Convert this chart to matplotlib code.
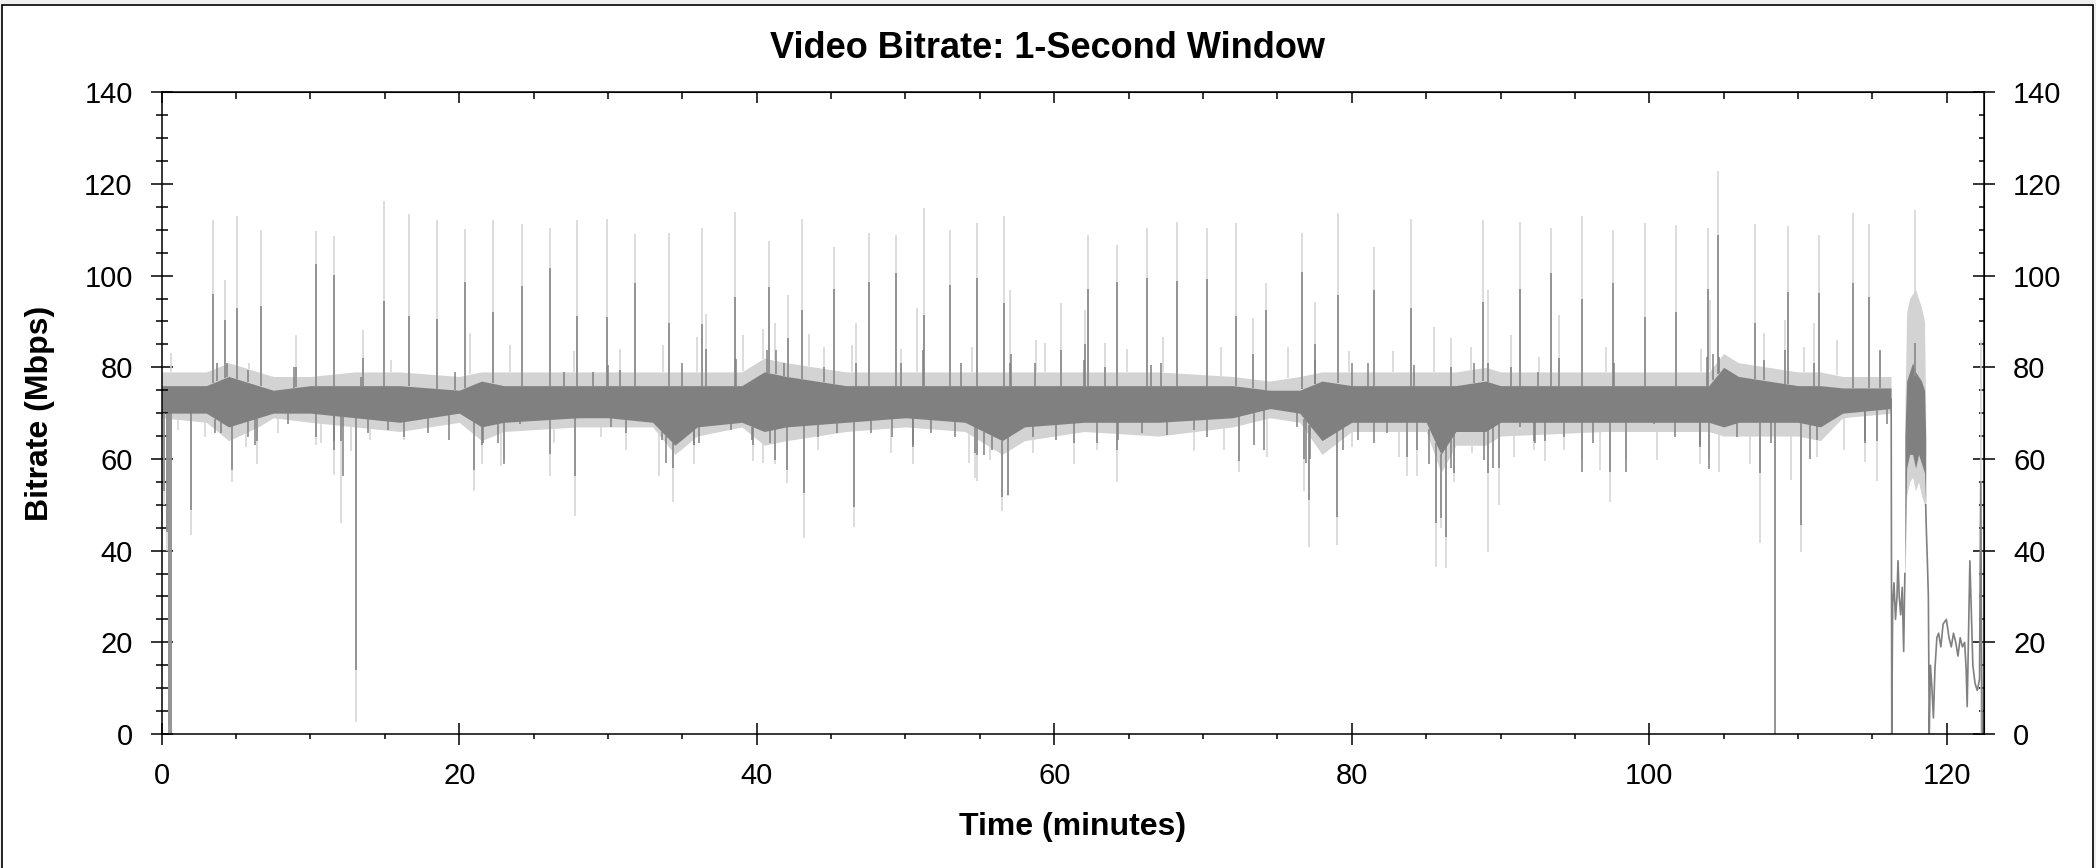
"""Video bitrate over time, 1-second window (light = peak, dark = average)."""

import matplotlib

matplotlib.use("Agg")
import matplotlib.pyplot as plt  # noqa: E402
import numpy as np  # noqa: E402
from matplotlib.patches import Rectangle  # noqa: E402
from matplotlib.ticker import MultipleLocator  # noqa: E402

LIGHT, DARK = "#d3d3d3", "#808080"
FONT = "Liberation Sans"

# main programme: envelope of the dense band, read at breakpoints (minutes, Mbps)
band_t = [0.0, 3.0, 4.5, 6.5, 7.5, 10.0, 13.0, 16.0, 20.0, 21.5, 23.0, 28.0, 30.0,
          33.0, 34.5, 36.0, 39.0, 40.5, 42.0, 46.0, 50.0, 54.0, 56.5, 58.0, 62.0,
          67.0, 72.0, 74.5, 76.5, 78.0, 80.0, 85.0, 86.0, 87.0, 89.0, 90.0, 97.0,
          104.0, 105.0, 106.0, 110.0, 111.5, 113.0, 116.25]
light_lo = [69, 68, 64, 67, 69, 68, 67, 66, 68, 64, 66, 67, 67, 67, 61, 65, 67, 63,
            64, 66, 67, 66, 61, 64, 66, 65, 67, 69, 68, 61, 66, 66, 57, 63, 63, 65,
            66, 66, 65, 65, 65, 64, 69, 70]
light_hi = [79, 79, 81, 79, 78, 78, 79, 79, 78, 79, 79, 79, 79, 79, 79, 79, 79, 82,
            81, 79, 79, 79, 79, 79, 79, 79, 78, 77, 78, 79, 79, 79, 79, 79, 80, 79,
            79, 79, 83, 81, 79, 79, 78, 78]
dark_lo = [70, 70, 67, 69, 70, 70, 69, 68, 70, 67, 68, 69, 69, 68, 63, 67, 68, 66,
           67, 68, 69, 68, 64, 67, 68, 68, 69, 71, 70, 64, 68, 68, 61, 66, 66, 68,
           68, 68, 67, 68, 68, 67, 70, 71]
dark_hi = [76, 76, 78, 76, 75, 76, 76, 76, 75, 77, 76, 76, 76, 76, 76, 76, 76, 79,
           78, 76, 76, 76, 76, 76, 76, 76, 76, 75, 75, 77, 76, 76, 76, 76, 77, 76,
           76, 76, 80, 78, 76, 76, 75.5, 75.5]

# recurring tall spikes: time, peak (light), average (dark)
spike_t = [3.43, 4.23, 5.08, 6.65, 9.03, 10.35, 11.60, 13.53, 14.96, 16.64, 18.50,
           20.40, 22.29, 24.23, 26.10, 27.93, 29.93, 31.83, 34.07, 36.33, 36.60,
           38.55, 40.83, 42.11, 43.05, 45.20, 46.68, 47.55, 49.37, 51.23, 53.00,
           54.81, 56.63, 57.00, 60.48, 62.05, 62.30, 64.25, 66.24, 68.23, 70.25,
           72.22, 73.39, 74.22, 76.66, 77.53, 79.05, 81.49, 83.96, 88.82, 89.17,
           91.30, 93.39, 93.90, 95.47, 97.58, 99.68, 101.79, 103.94, 104.61, 107.10,
           109.32, 111.42, 113.68, 114.78, 117.85]
spike_light = [112.1, 99.0, 113.0, 110.0, 87.0, 109.7, 108.6, 88.1, 116.3, 113.4,
               112.1, 110.1, 112.1, 111.3, 110.3, 112.2, 112.3, 109.1, 109.2, 110.3,
               91.6, 113.8, 107.5, 95.8, 112.3, 106.2, 89.7, 109.2, 108.9, 114.7,
               110.0, 111.4, 113.1, 96.9, 94.0, 92.5, 108.9, 106.7, 110.5, 111.6,
               110.5, 111.4, 90.8, 98.5, 109.4, 94.2, 113.6, 106.3, 112.3, 112.1,
               96.9, 111.8, 110.5, 91.4, 113.0, 110.0, 111.4, 111.0, 110.3, 122.8,
               111.2, 110.8, 108.9, 113.6, 111.2, 114.3]
spike_dark = [96.0, 90.3, 92.9, 93.4, 80.1, 102.5, 100.1, 82.0, 94.5, 91.3, 90.5,
              98.6, 92.1, 97.7, 101.7, 91.2, 91.0, 98.5, 89.7, 89.4, 83.9, 95.4,
              97.6, 86.3, 92.5, 97.1, 80.9, 98.6, 100.6, 91.5, 97.9, 99.5, 94.0,
              81.0, 83.8, 85.0, 97.1, 98.6, 99.5, 98.8, 99.2, 91.2, 82.9, 92.5,
              100.7, 85.0, 95.8, 96.9, 92.9, 94.3, 81.0, 97.0, 100.5, 82.0, 94.8,
              98.3, 90.9, 92.0, 97.0, 108.8, 89.6, 96.4, 96.2, 98.5, 95.4, 85.4]

# smaller peak-only flickers above and below the band
flick_t = [0.63, 5.90, 15.40, 20.70, 23.40, 27.70, 30.80, 33.70, 36.00, 39.10,
           40.40, 41.20, 43.50, 44.50, 46.40, 49.70, 50.80, 54.50, 58.80, 59.40,
           63.40, 64.90, 67.30, 71.20, 75.70, 79.80, 82.80, 85.50, 86.70, 88.00,
           90.70, 92.60, 97.10, 103.50, 104.10, 104.60, 107.70, 109.10, 110.40,
           111.10, 112.60, 115.50]
flick_v = [83.1, 81.0, 81.7, 87.4, 84.8, 83.6, 84.1, 84.8, 86.7, 87.0, 88.3, 89.6,
           87.2, 84.5, 84.8, 84.1, 92.9, 84.5, 85.9, 85.2, 85.2, 84.1, 86.7, 84.5,
           84.5, 83.6, 83.6, 88.9, 86.3, 84.5, 87.0, 82.3, 84.5, 84.1, 94.7, 88.9,
           87.4, 90.3, 84.5, 89.6, 85.9, 83.6]
lflick_t = [1.07, 2.90, 5.70, 7.80, 10.70, 12.70, 14.00, 16.30, 22.80, 26.40, 29.50,
            31.20, 33.40, 40.40, 41.20, 44.10, 49.00, 54.30, 54.70, 55.70, 58.60,
            61.30, 62.90, 69.40, 71.40, 74.30, 80.00, 83.20, 83.70, 86.90, 88.10,
            90.90, 94.30, 96.70, 100.50, 104.70, 106.80, 109.50, 111.30, 113.10]
lflick_v = [66.3, 64.9, 62.7, 65.6, 63.4, 61.8, 64.1, 64.1, 58.5, 63.4, 64.9, 62.0,
            56.2, 59.1, 58.8, 62.0, 61.2, 59.1, 55.8, 59.8, 61.2, 58.8, 62.0, 61.8,
            62.0, 60.5, 62.7, 60.5, 56.2, 56.9, 61.2, 60.5, 62.0, 57.6, 59.8, 57.2,
            58.8, 55.4, 60.5, 62.0]

# average-series excursions out of the dense core
dup_t = [3.70, 4.40, 5.80, 8.90, 13.40, 19.70, 27.06, 29.00, 30.00, 30.80, 35.00,
         38.60, 40.70, 41.30, 41.80, 44.50, 49.70, 51.20, 53.70, 57.10, 58.70, 62.00,
         63.40, 66.50, 67.20, 77.50, 80.00, 81.10, 84.20, 86.70, 88.20, 90.70, 92.50,
         97.60, 103.90, 104.30, 104.70, 107.70, 109.10, 111.10, 115.50]
dup_v = [80.9, 80.9, 79.4, 80.1, 77.9, 79.0, 79.0, 79.0, 80.5, 79.4, 80.9, 81.9,
         83.8, 83.8, 80.9, 80.1, 80.9, 83.8, 80.9, 83.0, 80.9, 81.6, 80.1, 80.5,
         80.9, 81.6, 80.9, 80.9, 80.5, 80.1, 80.9, 80.1, 79.0, 80.9, 82.3, 83.0,
         82.3, 81.6, 83.8, 80.9, 83.8]
ddn_t = [3.60, 4.00, 4.40, 5.80, 6.30, 8.47, 11.60, 12.20, 13.90, 15.20, 16.30,
         17.90, 19.30, 21.60, 22.60, 24.10, 30.20, 31.20, 33.60, 33.90, 35.80, 36.10,
         38.30, 39.70, 40.90, 41.20, 44.10, 45.40, 47.70, 49.10, 50.50, 51.70, 53.30,
         54.70, 55.30, 55.80, 57.70, 58.60, 60.10, 61.30, 62.90, 64.30, 65.90, 67.60,
         69.40, 70.30, 73.40, 74.10, 76.30, 76.90, 77.20, 79.40, 80.40, 81.50, 82.40,
         83.70, 85.20, 86.70, 88.90, 89.50, 91.30, 92.30, 94.30, 96.20, 100.30,
         101.70, 103.40, 105.90, 108.20, 110.80, 111.30, 114.50, 116.00]
ddn_v = [65.6, 65.6, 67.7, 64.9, 63.0, 67.7, 62.0, 56.2, 65.6, 66.3, 64.9, 65.6,
         64.1, 63.4, 63.4, 67.7, 67.0, 65.6, 64.1, 59.1, 63.0, 63.4, 66.3, 64.1,
         63.4, 59.8, 64.9, 65.6, 65.6, 64.9, 62.7, 65.6, 64.9, 61.2, 60.9, 62.0,
         66.3, 64.9, 64.1, 63.4, 63.4, 64.1, 65.6, 65.2, 66.3, 64.9, 63.0, 62.0,
         67.0, 59.1, 60.0, 62.0, 64.1, 63.4, 65.6, 60.5, 59.0, 58.0, 59.8, 58.0,
         67.0, 63.4, 64.9, 63.4, 67.7, 64.9, 62.7, 64.9, 63.4, 60.0, 64.1, 63.4, 67.7]

# deep downward excursions: time, floor (light), floor (dark)
dip_t = [0.18, 0.33, 0.50, 0.60, 2.00, 4.72, 6.38, 10.38, 11.56, 12.08, 13.06,
         21.00, 21.50, 23.00, 26.10, 27.80, 34.36, 35.80, 39.76, 42.04, 43.21,
         46.53, 50.50, 54.80, 56.50, 56.90, 64.25, 72.42, 76.80, 77.13, 79.03,
         84.40, 85.64, 86.00, 86.36, 86.90, 89.15, 89.90, 92.25, 92.96, 95.50,
         97.35, 98.45, 103.40, 104.00, 107.43, 108.44, 110.17, 114.50, 115.30]
dip_light = [50.0, 40.0, 2.0, 0.0, 43.4, 55.0, 59.0, 63.0, 56.5, 46.1, 2.6, 53.1,
             58.9, 60.0, 56.2, 47.6, 50.7, 59.0, 59.6, 54.7, 42.7, 45.2, 58.9, 55.3,
             48.7, 52.0, 55.0, 57.2, 53.1, 40.9, 41.2, 56.2, 36.5, 45.0, 36.2, 55.0,
             39.8, 49.9, 62.0, 59.6, 60.0, 50.7, 60.0, 59.0, 60.0, 41.6, 0.0, 39.8,
             59.3, 55.2]
dip_dark = [53.0, 44.0, 0.0, 0.0, 48.9, 57.6, 64.0, 64.9, 64.0, 64.0, 14.0, 57.6,
            63.0, 58.9, 61.0, 56.3, 58.0, 63.0, 63.0, 57.6, 52.5, 49.6, 63.0, 60.9,
            51.8, 52.2, 62.0, 59.5, 60.0, 51.0, 47.4, 62.0, 46.0, 47.1, 43.0, 57.0,
            56.9, 58.0, 64.0, 64.0, 57.2, 57.2, 57.2, 63.0, 57.9, 56.9, 0.0, 45.6,
            64.0, 64.0]

# short burst after the credits
burst_t = [117.18, 117.30, 117.50, 117.70, 117.90, 118.10, 118.30, 118.50, 118.58]
burst_light_lo = [30, 52, 55, 56, 53, 55, 52, 50, 45]
burst_light_hi = [70, 92, 95, 96, 97, 95, 93, 90, 70]
burst_dark_lo = [35, 58, 61, 61, 58, 61, 59, 57, 50]
burst_dark_hi = [65, 77, 79, 81, 79, 78, 77, 75, 65]

# tail traces either side of the burst
tail1_t = [116.26, 116.30, 116.36, 116.45, 116.55, 116.65, 116.72, 116.80, 116.90,
           117.00, 117.10, 117.18]
tail1_v = [73, 0, 28, 33, 25, 30, 37.8, 30, 26, 32, 18, 35]
tail2_t = [118.58, 118.62, 118.70, 118.76, 118.82, 118.90, 119.00, 119.10, 119.20,
           119.33, 119.45, 119.60, 119.75, 119.97, 120.15, 120.30, 120.45, 120.60,
           120.75, 120.90, 121.05, 121.20, 121.30, 121.37, 121.45, 121.55, 121.62,
           121.75, 121.90, 122.05, 122.20, 122.28, 122.33, 122.38, 122.42]
tail2_v = [50, 45, 37, 30, 0, 15, 10, 3.5, 14, 21, 22, 19, 24, 25, 21, 19, 22, 20,
           17, 21, 19, 20, 14, 6, 20, 37.8, 30, 15, 11, 9.5, 12, 55, 20, 0, 0]
end_flick_t = [122.33]
end_flick_v = [86.0]

x_ticks = [0, 20, 40, 60, 80, 100, 120]
y_ticks = [0, 20, 40, 60, 80, 100, 120, 140]


def main() -> None:
    plt.rcParams["font.family"] = [FONT, "DejaVu Sans"]
    fig = plt.figure(figsize=(20.96, 8.68), dpi=100, facecolor="#f0f0f0")
    fig.patches.append(
        Rectangle((1.5 / 2096, -0.01), 2091.5 / 2096, 1.01 - 4.5 / 868,
                  transform=fig.transFigure, facecolor="white", edgecolor="black",
                  lw=1.2, zorder=-10)
    )
    ax = fig.add_axes([161.7 / 2096, 1 - 734 / 868, (1984 - 161.7) / 2096,
                       (734 - 92.3) / 868])
    ax.set_facecolor("white")
    lw = 1.1

    # peak series (light)
    ax.fill_between(band_t, light_lo, light_hi, color=LIGHT, lw=0)
    ax.vlines(spike_t, np.interp(spike_t, band_t, light_hi), spike_light,
              color=LIGHT, lw=lw)
    ax.vlines(flick_t, np.interp(flick_t, band_t, light_hi), flick_v,
              color=LIGHT, lw=lw)
    ax.vlines(lflick_t, lflick_v, np.interp(lflick_t, band_t, light_lo),
              color=LIGHT, lw=lw)
    ax.vlines(dip_t, dip_light, np.interp(dip_t, band_t, light_lo),
              color=LIGHT, lw=lw)
    ax.fill_between(burst_t, burst_light_lo, burst_light_hi, color=LIGHT, lw=0)
    ax.vlines(end_flick_t, 0, end_flick_v, color=LIGHT, lw=lw)

    # average series (dark)
    ax.fill_between(band_t, dark_lo, dark_hi, color=DARK, lw=0)
    ax.vlines(spike_t, np.interp(spike_t, band_t, dark_hi), spike_dark,
              color=DARK, lw=lw)
    ax.vlines(dup_t, np.interp(dup_t, band_t, dark_hi), dup_v, color=DARK, lw=lw)
    ax.vlines(ddn_t, ddn_v, np.interp(ddn_t, band_t, dark_lo), color=DARK, lw=lw)
    ax.vlines(dip_t, dip_dark, np.interp(dip_t, band_t, dark_lo),
              color=DARK, lw=lw)
    ax.fill_between(burst_t, burst_dark_lo, burst_dark_hi, color=DARK, lw=0)
    ax.plot(tail1_t, tail1_v, color=DARK, lw=1.2)
    ax.plot(tail2_t, tail2_v, color=DARK, lw=1.2)

    ax.set_xlim(0, 122.5)
    ax.set_ylim(0, 140)
    ax.set_xticks(x_ticks)
    ax.set_yticks(y_ticks)
    ax.xaxis.set_minor_locator(MultipleLocator(5))
    ax.yaxis.set_minor_locator(MultipleLocator(5))
    for s in ax.spines.values():
        s.set_linewidth(1.1)
    ax.tick_params(axis="x", which="major", direction="inout", length=15.8,
                   width=1.1, labelsize=21, pad=12)
    ax.tick_params(axis="x", which="minor", direction="out", length=3.6, width=1.1)
    ax.tick_params(axis="y", which="major", direction="inout", length=15.8,
                   width=1.1, labelsize=21, pad=13)
    ax.tick_params(axis="y", which="minor", direction="inout", length=8.6, width=1.1)

    top = ax.secondary_xaxis("top")
    top.set_xticks(x_ticks)
    top.xaxis.set_minor_locator(MultipleLocator(5))
    top.tick_params(which="major", direction="in", length=7.9, width=1.1,
                    labeltop=False)
    top.tick_params(which="minor", direction="in", length=5, width=1.1)

    right = ax.secondary_yaxis("right")
    right.set_yticks(y_ticks)
    right.yaxis.set_minor_locator(MultipleLocator(5))
    right.tick_params(which="major", direction="inout", length=15.8, width=1.1,
                      labelsize=21, pad=13)
    right.tick_params(which="minor", direction="in", length=3.6, width=1.1)

    fig.text(0.5, 1 - 48.5 / 868, "Video Bitrate: 1-Second Window", ha="center",
             va="center", fontsize=26, fontweight="bold")
    fig.text(1073 / 2096, 1 - 827 / 868, "Time (minutes)", ha="center",
             va="center", fontsize=23, fontweight="bold")
    fig.text(40 / 2096, 1 - 413 / 868, "Bitrate (Mbps)", ha="center",
             va="center", rotation=90, fontsize=23, fontweight="bold")

    fig.savefig("out.png", dpi=100, facecolor=fig.get_facecolor())


if __name__ == "__main__":
    main()
